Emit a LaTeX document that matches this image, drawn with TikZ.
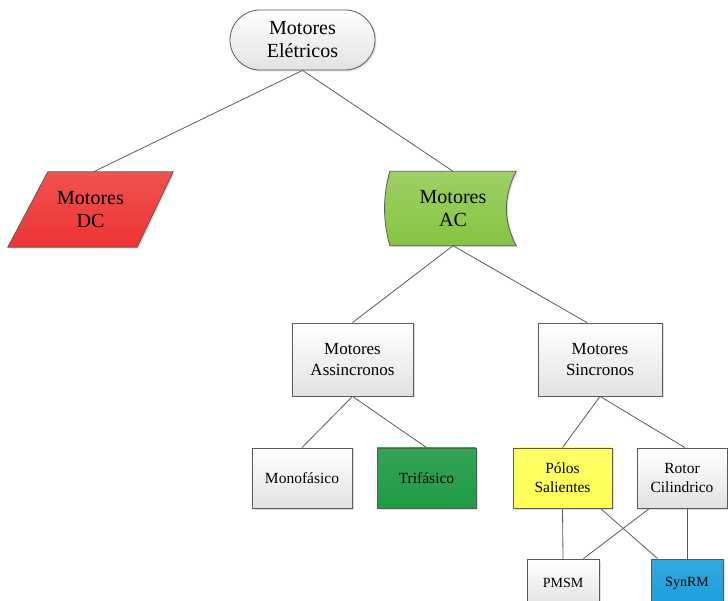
\documentclass[tikz,border=0pt]{standalone}
\usepackage{fontspec}
\setmainfont{Liberation Serif}
\usetikzlibrary{shapes.misc,shadows,backgrounds}
\definecolor{linegray}{HTML}{5A5A5A}
\definecolor{boxgray}{HTML}{E2E2E2}
\definecolor{dcred}{HTML}{EE3333}
\definecolor{acgreen}{HTML}{86C440}
\definecolor{trigreen}{HTML}{1E9A44}
\definecolor{polyellow}{HTML}{FFFF55}
\definecolor{synblue}{HTML}{1A9FDC}
\begin{document}
\begin{tikzpicture}[x=1pt,y=1pt,
  box/.style={draw=linegray,line width=.8pt,top color=white,bottom color=boxgray,align=center,inner sep=2pt,
    drop shadow={shadow xshift=1.5pt,shadow yshift=-1.5pt,opacity=.25}},
  shapebg/.style={draw=linegray,line width=.8pt,drop shadow={shadow xshift=1.5pt,shadow yshift=-1.5pt,opacity=.25}},
  fbig/.style={font=\fontsize{20}{23}\selectfont},
  fmid/.style={font=\fontsize{17}{21}\selectfont},
  fsmall/.style={font=\fontsize{15.5}{19}\selectfont},
  fless/.style={font=\fontsize{14}{16}\selectfont},
  link/.style={draw=linegray,line width=.8pt}]
\useasboundingbox (0,0) rectangle (728,600);
\clip (0,0) rectangle (728,600);
\node[box,rounded rectangle,minimum width=149,minimum height=60,fbig] (eletricos) at (302.5,560) {Motores\\Elétricos};
\node[align=center,minimum width=165,minimum height=75,fbig] (dc) at (90.5,390.5) {Motores\\DC};
\node[align=center,minimum width=126,minimum height=74,fbig] (ac) at (453,391.5) {Motores\\AC};
\begin{scope}[on background layer]
\draw[shapebg,top color=dcred!85,bottom color=dcred]
  ([xshift=40pt]dc.north west) -- (dc.north east) -- ([xshift=-36pt]dc.south east) -- (dc.south west) -- cycle;
\draw[shapebg,top color=acgreen!80,bottom color=acgreen]
  (ac.north west) .. controls +(-7,-25) and +(-7,25) .. (ac.south west) -- (ac.south east)
  .. controls +(-13,25) and +(-13,-25) .. (ac.north east) -- cycle;
\end{scope}
\node[box,minimum width=121,minimum height=73,fmid] (assinc) at (352.5,240.5) {Motores\\Assincronos};
\node[box,minimum width=124,minimum height=73,fmid] (sinc) at (600,240.5) {Motores\\Sincronos};
\node[box,minimum width=100,minimum height=60,fsmall] (mono) at (302,122) {Monofásico};
\node[box,minimum width=99,minimum height=60,top color=trigreen!90,bottom color=trigreen,fsmall] (tri) at (426.5,122) {Trifásico};
\node[box,minimum width=99,minimum height=60,top color=polyellow!90,bottom color=polyellow,fsmall] (polos) at (562.5,122) {Pólos\\Salientes};
\node[box,minimum width=90,minimum height=60,fsmall] (rotor) at (682,122) {Rotor\\Cilindrico};
\node[box,minimum width=72,minimum height=48,fless] (pmsm) at (563,17) {PMSM};
\node[box,minimum width=72,minimum height=48,top color=synblue!90,bottom color=synblue,fless] (synrm) at (687,17) {SynRM};
\draw[link] (eletricos.south) -- ([xshift=3pt]dc.north);
\draw[link] (eletricos.south) -- (ac.north);
\draw[link] (ac.south) -- (assinc.north);
\draw[link] (ac.south) -- ([xshift=-13pt]sinc.north);
\draw[link] (assinc.south) -- (mono.north);
\draw[link] (assinc.south) -- (tri.north);
\draw[link] (sinc.south) -- (polos.north);
\draw[link] (sinc.south) -- ([xshift=3pt]rotor.north);
\draw[link] (polos.south) -- (pmsm.north);
\draw[link] ([xshift=-12pt]polos.south east) -- ([xshift=7pt]synrm.north west);
\draw[link] ([xshift=13pt]rotor.south west) -- ([xshift=-16pt]pmsm.north east);
\draw[link] (synrm.north) -- (synrm.north |- rotor.south);
\end{tikzpicture}
\end{document}
